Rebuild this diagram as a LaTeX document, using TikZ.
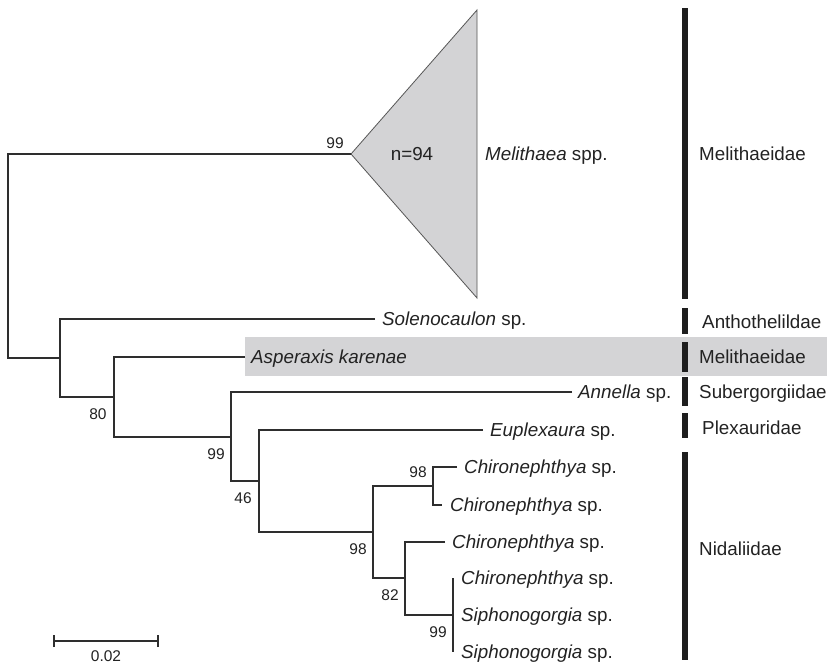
\documentclass[tikz,border=0pt]{standalone}
\usepackage{fontspec}
\setmainfont{Liberation Sans}
\definecolor{br}{HTML}{2E2E2E}
\definecolor{barc}{HTML}{1E1E1E}
\definecolor{tri}{HTML}{D3D3D5}
\definecolor{trid}{HTML}{555555}
\definecolor{hl}{HTML}{D4D4D6}
\definecolor{txt}{HTML}{222222}
\begin{document}
\begin{tikzpicture}[x=1pt,y=-1pt,
  branch/.style={draw=br,line width=2.6pt,line join=miter},
  famb/.style={draw=barc,line width=5.5pt},
  leaf/.style={anchor=west,inner sep=0pt,font=\fontsize{18.8}{20}\selectfont,text=txt,text height=13.4pt,text depth=0pt},
  fam/.style={anchor=west,inner sep=0pt,font=\fontsize{18.8}{20}\selectfont,text=txt,text height=13.4pt,text depth=0pt},
  boot/.style={anchor=center,inner sep=0pt,font=\fontsize{15.5}{17}\selectfont,text=txt,text height=11.1pt,text depth=0pt}]
\useasboundingbox (0,0) rectangle (829,664);

% highlight
\fill[hl] (245,337) rectangle (827,376);

% collapsed clade
\coordinate (apex) at (351,154);
\coordinate (ttop) at (477,10);
\coordinate (tbot) at (477,298);
\draw[draw=trid,line width=0.8pt,fill=tri] (apex) -- (ttop) -- (tbot) -- cycle;

% internal nodes
\coordinate (root) at (8,256);
\coordinate (A) at (60,358);
\coordinate (B) at (114,397);
\coordinate (C) at (231,437);
\coordinate (D) at (259,481);
\coordinate (E) at (373,532);
\coordinate (F) at (433,486);
\coordinate (G) at (405,578);
\coordinate (H) at (453,615);

% tips
\coordinate (tSol) at (375,319);
\coordinate (tAsp) at (245,357);
\coordinate (tAnn) at (572,392);
\coordinate (tEup) at (483,430);
\coordinate (tC1) at (457,467);
\coordinate (tC2) at (442,505);
\coordinate (tC3) at (445,542);
\coordinate (tC4) at (453,578);
\coordinate (tS1) at (453,615);
\coordinate (tS2) at (453,652);

% branches
\draw[branch] (apex) -| (root) |- (A);
\draw[branch] (tSol) -| (A) |- (B);
\draw[branch] (tAsp) -| (B) |- (C);
\draw[branch] (tAnn) -| (C) |- (D);
\draw[branch] (tEup) -| (D) |- (E);
\draw[branch] (F) -| (E) |- (G);
\draw[branch] (tC1) -| (F) |- (tC2);
\draw[branch] (tC3) -| (G) |- (H);
\draw[branch] (tC4) -- (tS1) -- (tS2);

% leaf labels
\node[leaf] (lMel) at (485,154) {\textit{Melithaea} spp.};
\node[anchor=center,inner sep=0pt,font=\fontsize{18.8}{20}\selectfont,text=txt,text height=13.4pt,text depth=0pt] (nn) at (412,154) {n=94};
\node[leaf] (lSol) at ([xshift=7pt]tSol) {\textit{Solenocaulon} sp.};
\node[leaf] (lAsp) at ([xshift=6pt]tAsp) {\textit{Asperaxis karenae}};
\node[leaf] (lAnn) at ([xshift=6pt]tAnn) {\textit{Annella} sp.};
\node[leaf] (lEup) at ([xshift=7pt]tEup) {\textit{Euplexaura} sp.};
\node[leaf] (lC1) at ([xshift=7pt]tC1) {\textit{Chironephthya} sp.};
\node[leaf] (lC2) at ([xshift=8pt]tC2) {\textit{Chironephthya} sp.};
\node[leaf] (lC3) at ([xshift=7pt]tC3) {\textit{Chironephthya} sp.};
\node[leaf] (lC4) at ([xshift=8pt]tC4) {\textit{Chironephthya} sp.};
\node[leaf] (lS1) at ([xshift=8pt]tS1) {\textit{Siphonogorgia} sp.};
\node[leaf] (lS2) at ([xshift=8pt]tS2) {\textit{Siphonogorgia} sp.};

% bootstrap values
\node[boot] (b1) at (335,143) {99};
\node[boot] (b2) at (98,414) {80};
\node[boot] (b3) at (216,454) {99};
\node[boot] (b4) at (243,498) {46};
\node[boot] (b5) at (418,472) {98};
\node[boot] (b6) at (358,549) {98};
\node[boot] (b7) at (390,595) {82};
\node[boot] (b8) at (438,632) {99};

% family bars
\coordinate (f1a) at (685,8);   \coordinate (f1b) at (685,299);
\coordinate (f2a) at (685,308); \coordinate (f2b) at (685,334);
\coordinate (f3a) at (685,342); \coordinate (f3b) at (685,372);
\coordinate (f4a) at (685,377); \coordinate (f4b) at (685,406);
\coordinate (f5a) at (685,413); \coordinate (f5b) at (685,438);
\coordinate (f6a) at (685,452); \coordinate (f6b) at (685,660);
\draw[famb] (f1a) -- (f1b);
\draw[famb] (f2a) -- (f2b);
\draw[famb] (f3a) -- (f3b);
\draw[famb] (f4a) -- (f4b);
\draw[famb] (f5a) -- (f5b);
\draw[famb] (f6a) -- (f6b);

\node[fam] (F1) at (699,154) {Melithaeidae};
\node[fam] (F2) at (702,322) {Anthothelildae};
\node[fam] (F3) at (699,357) {Melithaeidae};
\node[fam] (F4) at (699,392) {Subergorgiidae};
\node[fam] (F5) at (702,428) {Plexauridae};
\node[fam] (F6) at (699,549) {Nidaliidae};

% scale bar
\coordinate (sa) at (54,641);
\coordinate (sb) at (158,641);
\draw[branch,line width=2pt] (sa) -- (sb);
\draw[branch,line width=2pt] ([yshift=-6pt]sa) -- ([yshift=6pt]sa);
\draw[branch,line width=2pt] ([yshift=-6pt]sb) -- ([yshift=6pt]sb);
\node[boot] (sl) at (106,656) {0.02};
\end{tikzpicture}
\end{document}
